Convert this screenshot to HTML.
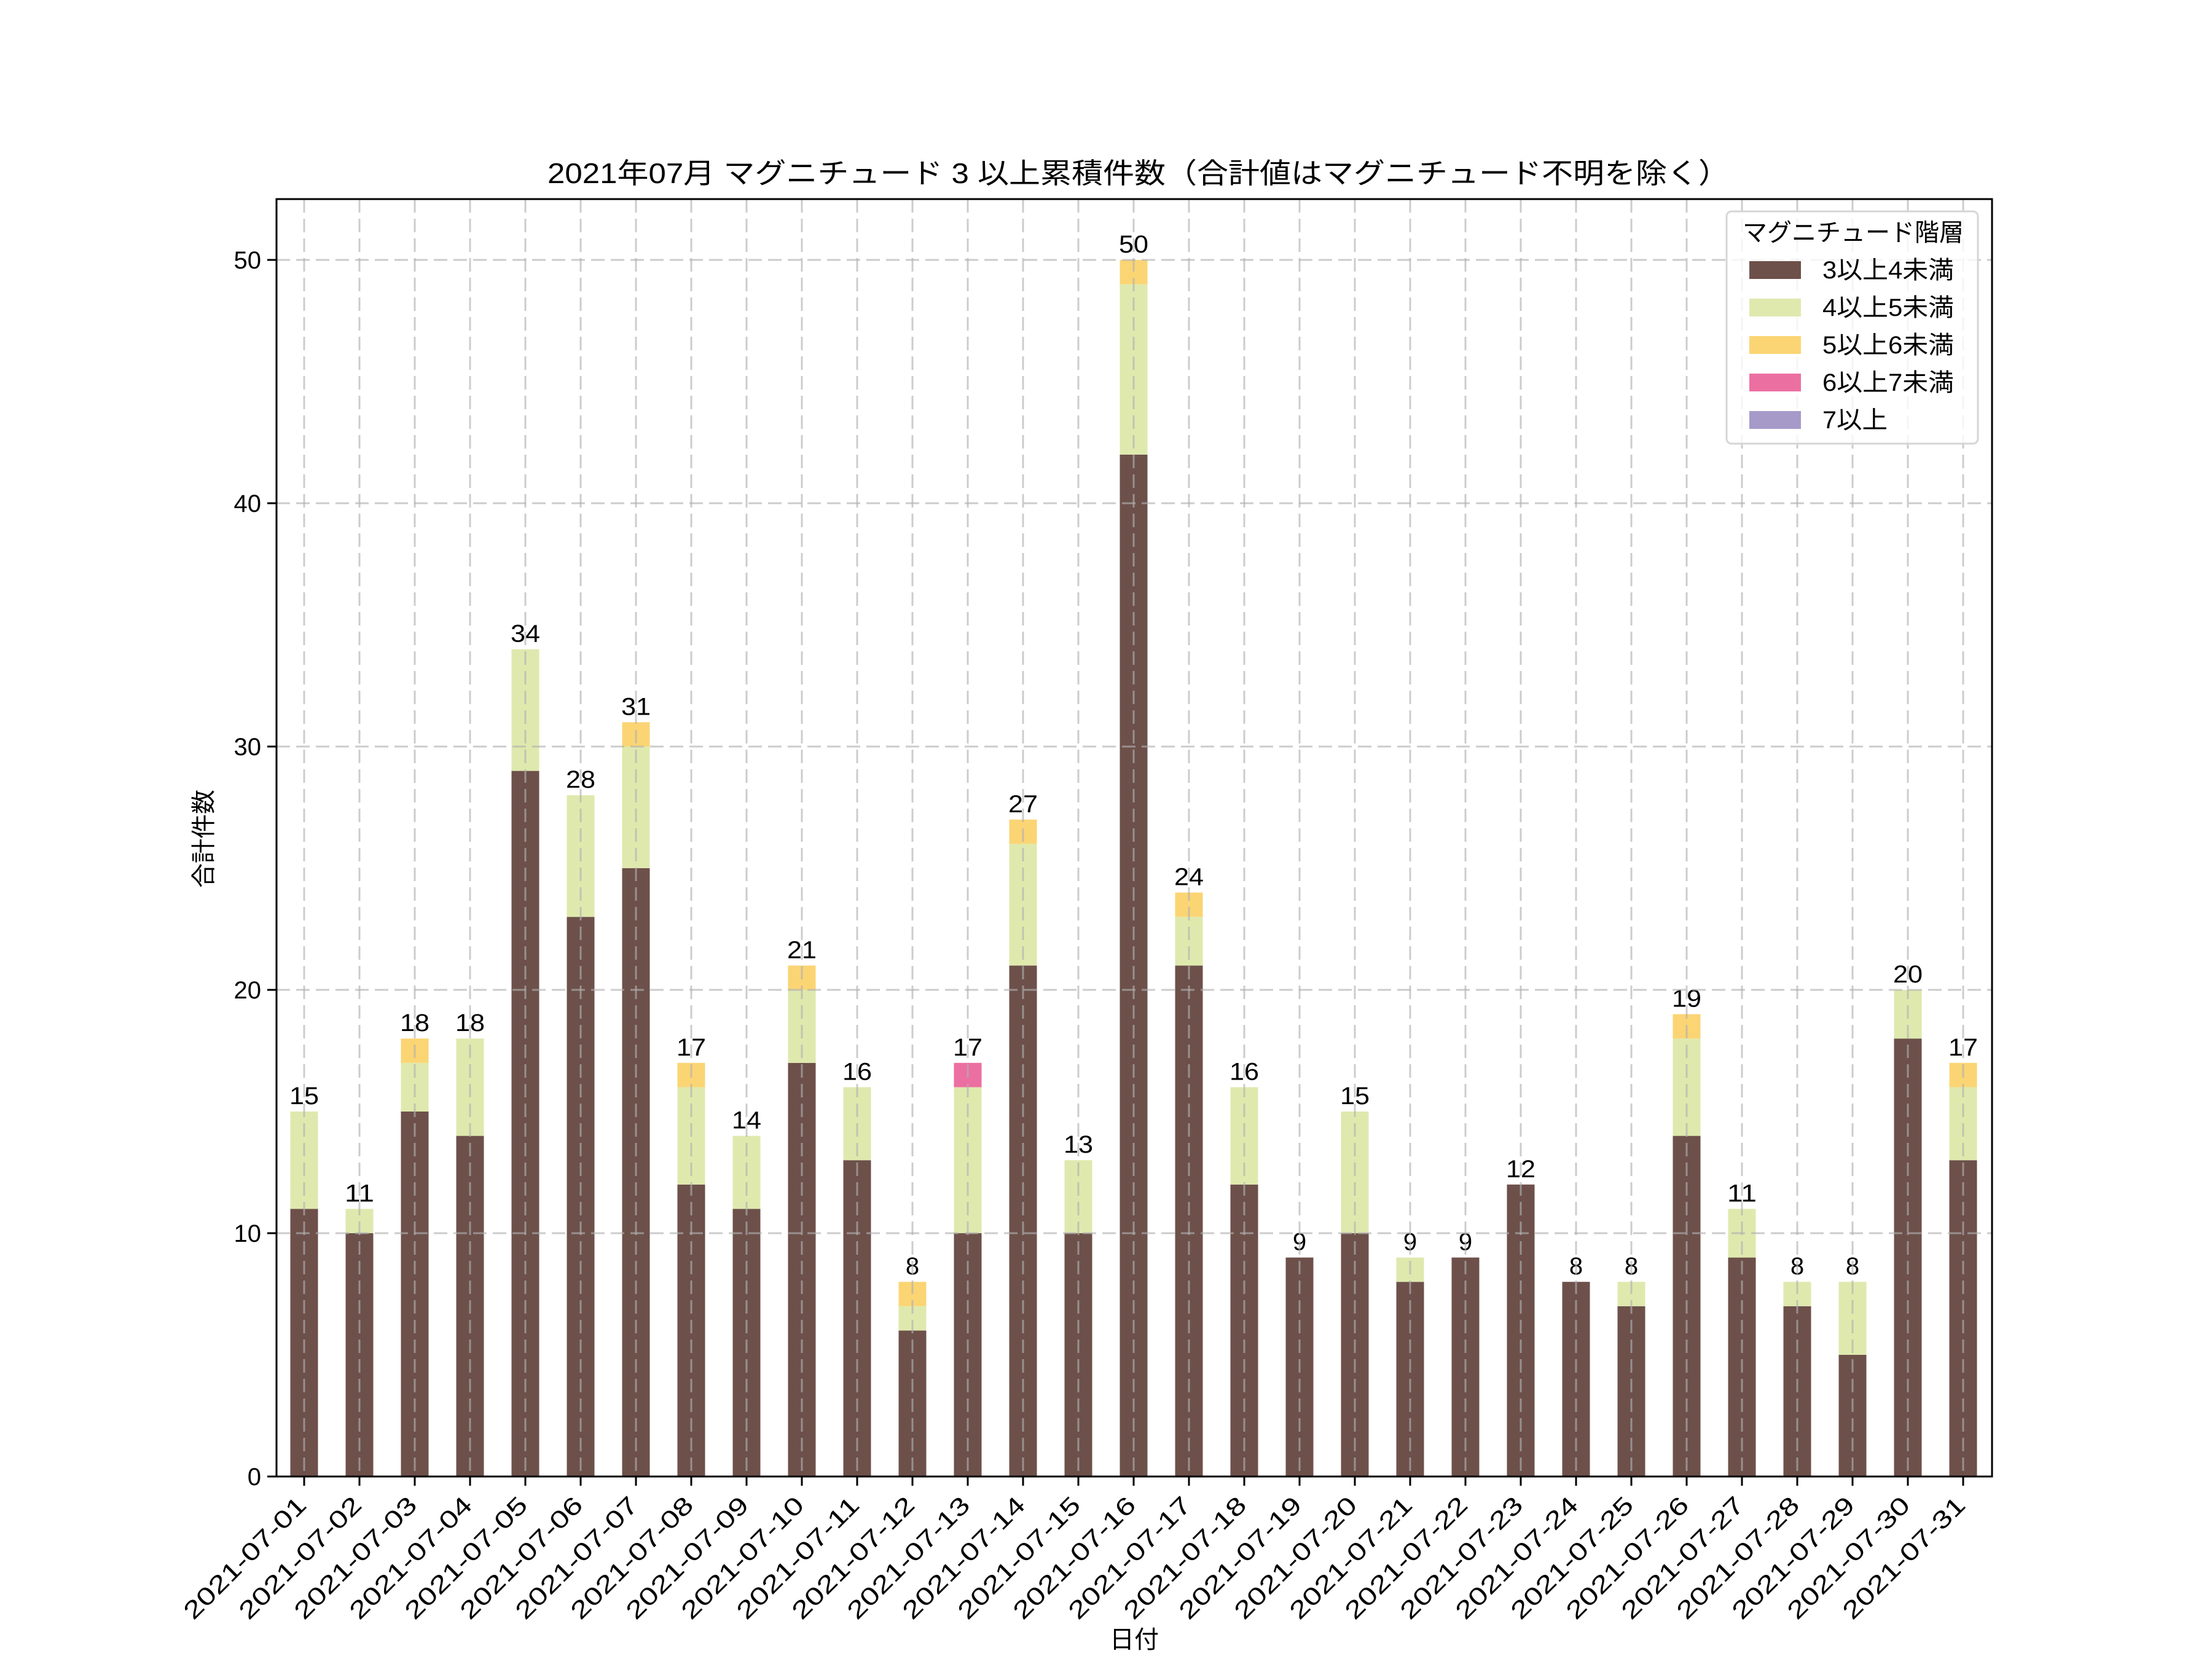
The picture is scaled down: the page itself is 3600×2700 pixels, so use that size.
<!DOCTYPE html>
<html><head><meta charset="utf-8"><style>
html,body{margin:0;padding:0;background:#fff;}
svg{display:block;}
text{font-family:"Liberation Sans","Noto Sans CJK JP",sans-serif;fill:#000;}
</style></head><body>
<svg id="s" width="3600" height="2700" viewBox="0 0 3600 2700" xmlns="http://www.w3.org/2000/svg">
<rect width="3600" height="2700" fill="#fff"/>
<g id="bars"></g>
<g id="grid"></g>
<g id="ax"></g>
<text x="891" y="298" font-size="46" textLength="1924" lengthAdjust="spacingAndGlyphs">2021年07月 マグニチュード 3 以上累積件数（合計値はマグニチュード不明を除く）</text>
<text transform="translate(345,1365) rotate(-90)" font-size="40" text-anchor="middle">合計件数</text>
<text x="1846" y="2682" font-size="40" text-anchor="middle">日付</text>
<g id="legend">
<rect x="2810" y="344" width="409" height="378" rx="8" fill="#fff" fill-opacity="0.8" stroke="#d6d6d6" stroke-width="3"/>
<text x="2836" y="392" font-size="40" textLength="360" lengthAdjust="spacingAndGlyphs">マグニチュード階層</text>
<rect x="2847" y="425" width="84" height="29" fill="#6d504a"/><text x="2966" y="453" font-size="40" textLength="214" lengthAdjust="spacingAndGlyphs">3以上4未満</text>
<rect x="2847" y="486" width="84" height="29" fill="#dfe9ae"/><text x="2966" y="514" font-size="40" textLength="214" lengthAdjust="spacingAndGlyphs">4以上5未満</text>
<rect x="2847" y="547" width="84" height="29" fill="#fbd574"/><text x="2966" y="575" font-size="40" textLength="214" lengthAdjust="spacingAndGlyphs">5以上6未満</text>
<rect x="2847" y="608" width="84" height="29" fill="#ec6fa1"/><text x="2966" y="636" font-size="40" textLength="214" lengthAdjust="spacingAndGlyphs">6以上7未満</text>
<rect x="2847" y="669" width="84" height="29" fill="#a59ac8"/><text x="2966" y="697" font-size="40" textLength="106" lengthAdjust="spacingAndGlyphs">7以上</text>
</g>
</svg>
<script>
var d=[[11,4],[10,1],[15,2,1],[14,4],[29,5],[23,5],[25,5,1],[12,4,1],[11,3],[17,3,1],[13,3],[6,1,1],[10,6,0,1],[21,5,1],[10,3],[42,7,1],[21,2,1],[12,4],[9],[10,5],[8,1],[9],[12],[8],[7,1],[14,4,1],[9,2],[7,1],[5,3],[18,2],[13,3,1]];
var col=["#6d504a","#dfe9ae","#fbd574","#ec6fa1","#a59ac8"];
var L=450,R=3242,T=324,B=2403,k=39.6;
function Y(v){return B-v*k;}
var b="",g="",a="";
for(var i=0;i<31;i++){var cx=495+90*i,c=0;
 for(var j=0;j<d[i].length;j++){var v=d[i][j];if(v>0){b+='<rect x="'+(cx-22.5)+'" y="'+Y(c+v)+'" width="45" height="'+(v*k)+'" fill="'+col[j]+'"/>';}c+=v;}
 b+='<text x="'+cx+'" y="'+(Y(c)-12)+'" font-size="40" text-anchor="middle"'+(c>=10?' textLength="48" lengthAdjust="spacingAndGlyphs"':'')+'>'+c+'</text>';
 g+='<line x1="'+cx+'" y1="'+T+'" x2="'+cx+'" y2="'+B+'"/>';
 a+='<line x1="'+cx+'" y1="'+B+'" x2="'+cx+'" y2="'+(B+15)+'" stroke="#000" stroke-width="3"/>';
 var dd=(i+1<10?"0":"")+(i+1);
 a+='<text transform="translate('+(cx+6)+','+2452+') rotate(-45)" font-size="40" text-anchor="end" textLength="263" lengthAdjust="spacingAndGlyphs">2021-07-'+dd+'</text>';
}
for(var t=0;t<=50;t+=10){var y=Y(t);
 if(t>0)g+='<line x1="'+L+'" y1="'+y+'" x2="'+R+'" y2="'+y+'"/>';
 a+='<line x1="'+(L-15)+'" y1="'+y+'" x2="'+L+'" y2="'+y+'" stroke="#000" stroke-width="3"/>';
 a+='<text x="'+(L-25)+'" y="'+(y+14)+'" font-size="40" text-anchor="end">'+t+'</text>';
}
a+='<rect x="'+L+'" y="'+T+'" width="'+(R-L)+'" height="'+(B-T)+'" fill="none" stroke="#000" stroke-width="3"/>';
document.getElementById("bars").innerHTML=b;
var G=document.getElementById("grid");G.setAttribute("stroke","#b0b0b0");G.setAttribute("stroke-opacity","0.65");G.setAttribute("stroke-width","3");G.setAttribute("stroke-dasharray","22 10");G.innerHTML=g;
document.getElementById("ax").innerHTML=a;
</script>
</body></html>
